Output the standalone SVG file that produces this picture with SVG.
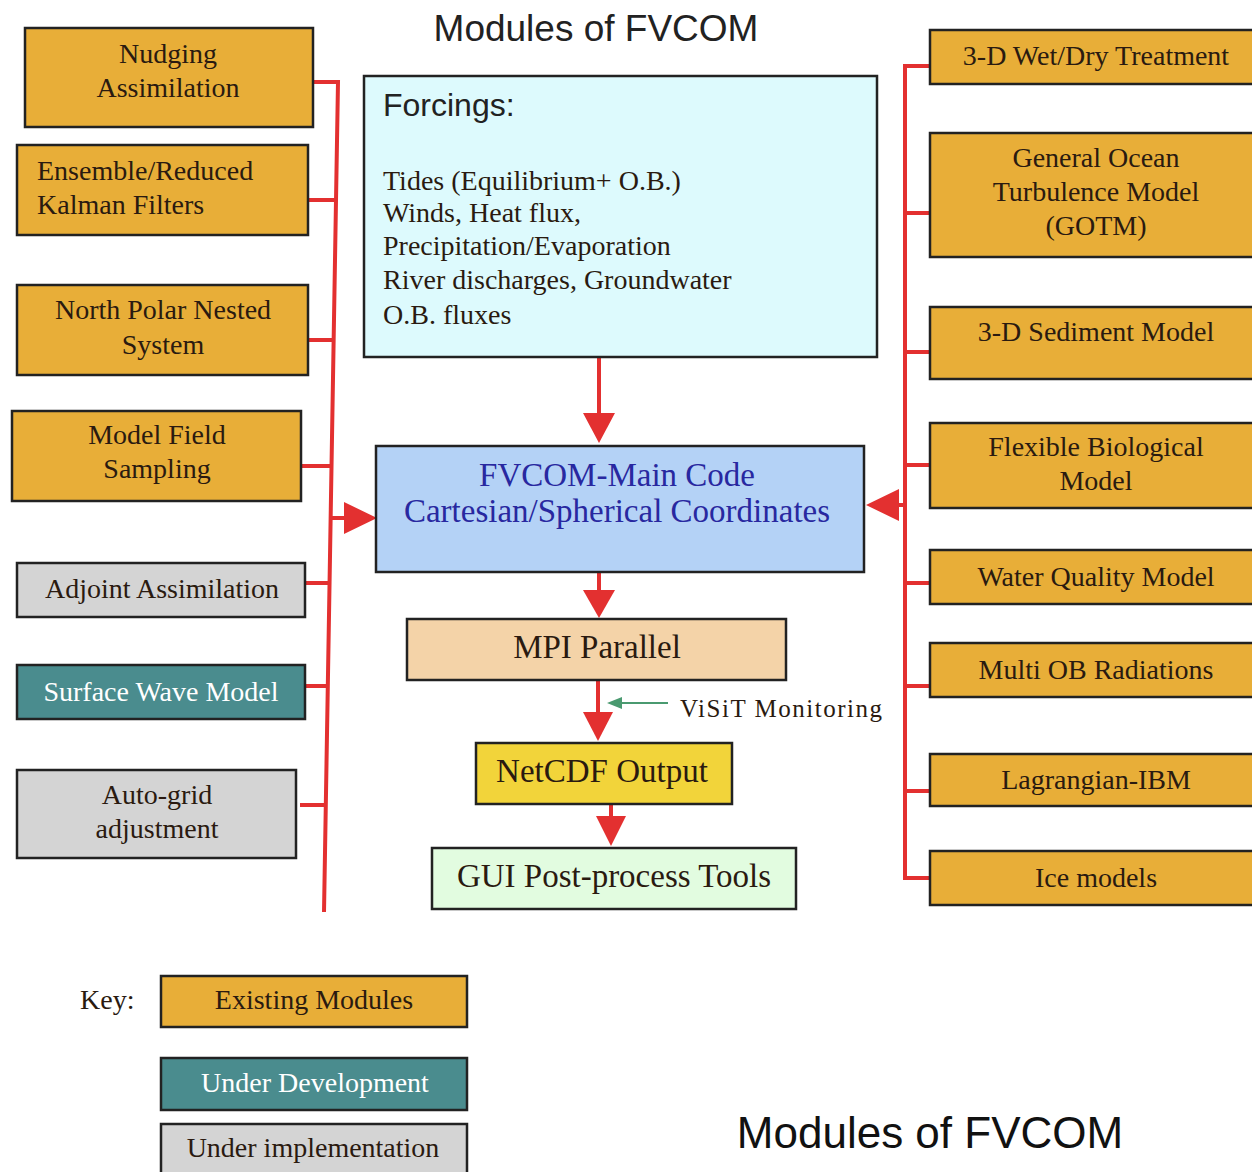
<svg xmlns="http://www.w3.org/2000/svg" width="1252" height="1172" viewBox="0 0 1252 1172">
<style>
.box{stroke:#222;stroke-width:2.5}
.ex{fill:#E8AE38}
.gr{fill:#D4D4D4}
.dv{fill:#4A8C8E}
.t{font-family:"Liberation Serif",serif;font-size:28px;fill:#2a1a10;text-anchor:middle}
.tl{font-family:"Liberation Serif",serif;font-size:28px;fill:#2a1a10}
.tw{font-family:"Liberation Serif",serif;font-size:28px;fill:#fff;text-anchor:middle}
.big{font-size:33px}
.red{stroke:#E33030;stroke-width:4;fill:none}
.ah{fill:#E33030}
.s{font-family:"Liberation Sans",Arial,sans-serif}
</style>
<rect width="1252" height="1172" fill="#fff"/>
<text class="s" x="596" y="41" font-size="37" fill="#222" text-anchor="middle">Modules of FVCOM</text>

<g id="connectors">
<polyline class="red" points="313,82 338,82 324,912"/>
<line class="red" x1="308" y1="200" x2="336" y2="200"/>
<line class="red" x1="308" y1="340" x2="334" y2="340"/>
<line class="red" x1="301" y1="466" x2="332" y2="466"/>
<line class="red" x1="305" y1="583" x2="330" y2="583"/>
<line class="red" x1="305" y1="686" x2="328" y2="686"/>
<line class="red" x1="300" y1="805" x2="326" y2="805"/>
<line class="red" x1="330" y1="518" x2="346" y2="518"/>
<polygon class="ah" points="344,502 344,534 377,518"/>
<polyline class="red" points="930,66 905,66 905,878 930,878"/>
<line class="red" x1="905" y1="213" x2="930" y2="213"/>
<line class="red" x1="905" y1="352" x2="930" y2="352"/>
<line class="red" x1="905" y1="465" x2="930" y2="465"/>
<line class="red" x1="905" y1="583" x2="930" y2="583"/>
<line class="red" x1="905" y1="686" x2="930" y2="686"/>
<line class="red" x1="905" y1="791" x2="930" y2="791"/>
<line class="red" x1="905" y1="505" x2="896" y2="505"/>
<polygon class="ah" points="899,489 899,521 866,505"/>
<line class="red" x1="599" y1="357" x2="599" y2="415"/>
<polygon class="ah" points="583,413 615,413 599,443"/>
<line class="red" x1="599" y1="572" x2="599" y2="592"/>
<polygon class="ah" points="583,590 615,590 599,618"/>
<line class="red" x1="598" y1="680" x2="598" y2="714"/>
<polygon class="ah" points="583,712 613,712 598,741"/>
<line class="red" x1="611" y1="804" x2="611" y2="818"/>
<polygon class="ah" points="596,816 626,816 611,846"/>
<line x1="668" y1="703" x2="618" y2="703" stroke="#4a9a70" stroke-width="2"/>
<polygon points="607,703 622,697 622,709" fill="#4a9a70"/>
</g>

<g id="nudging"><rect class="box ex" x="25" y="28" width="288" height="99"/>
<text class="t" x="168" y="63">Nudging</text><text class="t" x="168" y="97">Assimilation</text></g>
<g id="ensemble"><rect class="box ex" x="17" y="145" width="291" height="90"/>
<text class="tl" x="37" y="180">Ensemble/Reduced</text><text class="tl" x="37" y="214">Kalman  Filters</text></g>
<g id="northpolar"><rect class="box ex" x="17" y="285" width="291" height="90"/>
<text class="t" x="163" y="319">North Polar Nested</text><text class="t" x="163" y="354">System</text></g>
<g id="modelfield"><rect class="box ex" x="12" y="411" width="289" height="90"/>
<text class="t" x="157" y="444">Model Field</text><text class="t" x="157" y="478">Sampling</text></g>
<g id="adjoint"><rect class="box gr" x="17" y="563" width="288" height="54"/>
<text class="t" x="162" y="598">Adjoint Assimilation</text></g>
<g id="surfacewave"><rect class="box dv" x="17" y="665" width="288" height="54"/>
<text class="tw" x="161" y="701">Surface Wave Model</text></g>
<g id="autogrid"><rect class="box gr" x="17" y="770" width="279" height="88"/>
<text class="t" x="157" y="804">Auto-grid</text><text class="t" x="157" y="838">adjustment</text></g>

<g id="forcings"><rect class="box" fill="#DDFAFD" x="364" y="76" width="513" height="281"/>
<text class="s" x="383" y="116" font-size="32" fill="#222">Forcings:</text>
<text class="tl" x="383" y="190">Tides (Equilibrium+ O.B.)</text>
<text class="tl" x="383" y="222">Winds, Heat flux,</text>
<text class="tl" x="383" y="255">Precipitation/Evaporation</text>
<text class="tl" x="383" y="289">River discharges, Groundwater</text>
<text class="tl" x="383" y="324">O.B. fluxes</text></g>

<g id="maincode"><rect class="box" fill="#B4D2F6" x="376" y="446" width="488" height="126"/>
<text class="t big" x="617" y="486" style="fill:#2828A0">FVCOM-Main Code</text>
<text class="t big" x="617" y="522" style="fill:#2828A0">Cartesian/Spherical Coordinates</text></g>

<g id="mpi"><rect class="box" fill="#F4D3A8" x="407" y="619" width="379" height="61"/>
<text class="t big" x="597" y="658">MPI Parallel</text></g>
<g id="visit"><text class="tl" x="680" y="717" style="font-size:25px" textLength="202">ViSiT Monitoring</text></g>
<g id="netcdf"><rect class="box" fill="#F2D43A" x="476" y="743" width="256" height="61"/>
<text class="t big" x="602" y="782">NetCDF Output</text></g>
<g id="gui"><rect class="box" fill="#E2FCE0" x="432" y="848" width="364" height="61"/>
<text class="t big" x="614" y="887">GUI Post-process Tools</text></g>

<g id="wetdry"><rect class="box ex" x="930" y="30" width="330" height="54"/>
<text class="t" x="1096" y="65">3-D Wet/Dry Treatment</text></g>
<g id="gotm"><rect class="box ex" x="930" y="133" width="330" height="124"/>
<text class="t" x="1096" y="167">General Ocean</text><text class="t" x="1096" y="201">Turbulence Model</text><text class="t" x="1096" y="235">(GOTM)</text></g>
<g id="sediment"><rect class="box ex" x="930" y="307" width="330" height="72"/>
<text class="t" x="1096" y="341">3-D Sediment  Model</text></g>
<g id="bio"><rect class="box ex" x="930" y="423" width="330" height="85"/>
<text class="t" x="1096" y="456">Flexible Biological</text><text class="t" x="1096" y="490">Model</text></g>
<g id="waterq"><rect class="box ex" x="930" y="550" width="330" height="54"/>
<text class="t" x="1096" y="586">Water Quality Model</text></g>
<g id="multiob"><rect class="box ex" x="930" y="643" width="330" height="54"/>
<text class="t" x="1096" y="679">Multi OB Radiations</text></g>
<g id="lagrangian"><rect class="box ex" x="930" y="754" width="330" height="52"/>
<text class="t" x="1096" y="789">Lagrangian-IBM</text></g>
<g id="ice"><rect class="box ex" x="930" y="851" width="330" height="54"/>
<text class="t" x="1096" y="887">Ice models</text></g>

<g id="key">
<text class="tl" x="80" y="1009">Key:</text>
<rect class="box ex" x="161" y="976" width="306" height="51"/>
<text class="t" x="314" y="1009">Existing Modules</text>
<rect class="box dv" x="161" y="1058" width="306" height="52"/>
<text class="tw" x="315" y="1092">Under Development</text>
<rect class="box gr" x="161" y="1124" width="306" height="60"/>
<text class="t" x="313" y="1157">Under implementation</text>
</g>
<text class="s" x="930" y="1148" font-size="44" fill="#111" text-anchor="middle">Modules of FVCOM</text>
</svg>
